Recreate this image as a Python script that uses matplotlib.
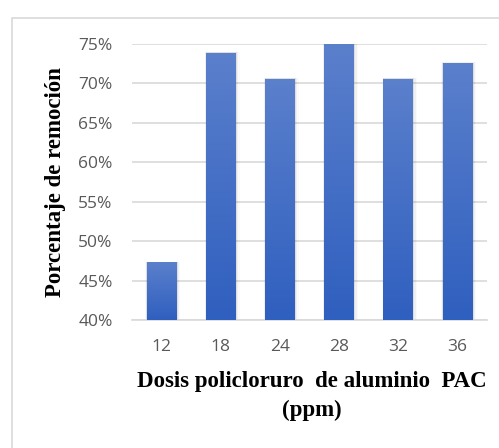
import numpy as np
import matplotlib
matplotlib.use("Agg")
import matplotlib.pyplot as plt
from matplotlib.patches import Rectangle
from matplotlib.colors import LinearSegmentedColormap
from matplotlib.ticker import FuncFormatter

# Removal percentage per PAC dose
doses = ["12", "18", "24", "28", "32", "36"]
removal = [47.3, 73.9, 70.6, 75.0, 70.6, 72.6]
y_ticks = [40, 45, 50, 55, 60, 65, 70, 75]

W, H = 499, 448
fig = plt.figure(figsize=(W / 100, H / 100), dpi=100)
fig.patch.set_facecolor("white")

# outer chart frame
fig.patches.append(Rectangle((12 / W, -0.05), 1.0, (H - 18) / H + 0.05,
                             transform=fig.transFigure, fill=False,
                             edgecolor="#d9d9d9", linewidth=1.2))

ax = fig.add_axes([132 / W, 1 - 320 / H, (487 - 132) / W, (320 - 44) / H])
ax.set_xlim(-0.5, len(doses) - 0.5)
ax.set_ylim(40, 75)

for s in ["top", "right", "left"]:
    ax.spines[s].set_visible(False)
ax.spines["bottom"].set_color("#d9d9d9")
ax.spines["bottom"].set_linewidth(1.2)

ax.set_yticks(y_ticks)
ax.yaxis.set_major_formatter(FuncFormatter(lambda v, p: f"{v:.0f}%"))
ax.grid(axis="y", color="#d9d9d9", linewidth=1.2)
ax.set_axisbelow(True)
ax.tick_params(axis="both", length=0, colors="#595959", labelsize=12.5)
ax.tick_params(axis="y", pad=14)
ax.tick_params(axis="x", pad=14)
ax.set_xticks(range(len(doses)))
ax.set_xticklabels(doses)
for t in ax.get_xticklabels() + ax.get_yticklabels():
    t.set_fontfamily("Open Sans")

cmap = LinearSegmentedColormap.from_list("bar", ["#2f5fbf", "#5b80cc"])
grad = np.linspace(0, 1, 256).reshape(-1, 1)
bw = 0.5
for i, v in enumerate(removal):
    # soft shadow offset to the lower right
    for k, a in enumerate([0.07, 0.04, 0.02]):
        d = 0.015 * (k + 1)
        ax.add_patch(Rectangle((i - bw / 2 - d * 0.5, 40), bw + d * 2, v - 40 + d * 2,
                               facecolor="black", alpha=a, linewidth=0, zorder=2))
    bar = Rectangle((i - bw / 2, 40), bw, v - 40, facecolor="none", linewidth=0, zorder=3)
    ax.add_patch(bar)
    im = ax.imshow(grad, extent=(i - bw / 2, i + bw / 2, 40, v), origin="lower",
                   cmap=cmap, aspect="auto", zorder=3)
    im.set_clip_path(bar)

ax.set_xlim(-0.5, len(doses) - 0.5)
ax.set_ylim(40, 75)

ax.set_ylabel("Porcentaje de remoción", fontfamily="Liberation Serif",
              fontweight="bold", fontsize=16.5, color="black")
ax.yaxis.set_label_coords(-(132 - 66) / (487 - 132), 0.5)

fig.text(312 / W, 1 - 382 / H, "Dosis policloruro  de aluminio  PAC",
         ha="center", va="center", fontfamily="Liberation Serif",
         fontweight="bold", fontsize=16.5)
fig.text(312 / W, 1 - 410 / H, "(ppm)", ha="center", va="center",
         fontfamily="Liberation Serif", fontweight="bold", fontsize=16.5)

fig.savefig("out.png", dpi=100, facecolor="white")
